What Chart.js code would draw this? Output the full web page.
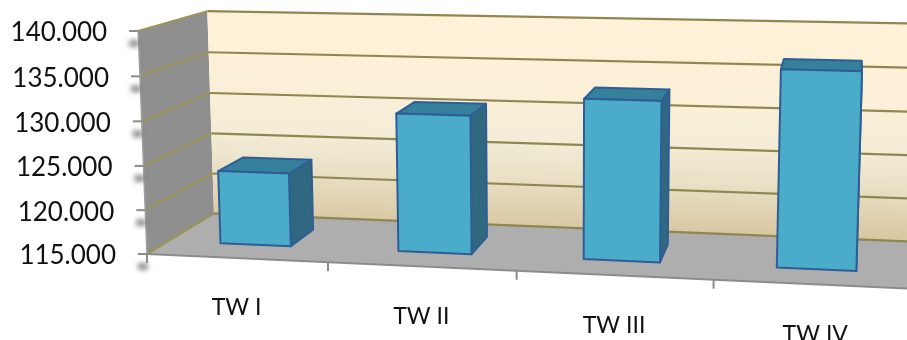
<!DOCTYPE html>
<html>
<head>
<meta charset="utf-8">
<title>Quarterly bars</title>
<script src="https://cdn.jsdelivr.net/npm/chart.js"></script>
<style>
  html, body { margin: 0; padding: 0; background: #fff; }
  canvas { display: block; }
</style>
</head>
<body>
<canvas id="bars3d" width="907" height="340"></canvas>
<script>
var categories = ['TW I', 'TW II', 'TW III', 'TW IV'];
var values = [123400, 130600, 132800, 136500];
var axisMin = 115000;
var axisMax = 140000;
var axisStep = 5000;

// depth range of the bars inside the box, 0 = front edge, 1 = back wall
var barDepth = [0.3, 0.7];

// three point perspective: origin plus a vanishing point per axis
var origin = [147, 254];
var vpX = [-8544, -140], kX = -0.0816;
var vpY = [560, 10700], kY = -0.0209;
var vpZ = [850, -173], kZ = 0.1053;

function project(u, v, w) {
  var d = 1 + u * kX + v * kY + w * kZ;
  return [
    (origin[0] + u * kX * vpX[0] + v * kY * vpY[0] + w * kZ * vpZ[0]) / d,
    (origin[1] + u * kX * vpX[1] + v * kY * vpY[1] + w * kZ * vpZ[1]) / d
  ];
}

function poly(ctx, pts, fill, stroke, lw) {
  ctx.beginPath();
  ctx.moveTo(pts[0][0], pts[0][1]);
  for (var i = 1; i < pts.length; i++) ctx.lineTo(pts[i][0], pts[i][1]);
  ctx.closePath();
  if (fill) { ctx.fillStyle = fill; ctx.fill(); }
  if (stroke) { ctx.strokeStyle = stroke; ctx.lineWidth = lw || 1; ctx.lineJoin = 'round'; ctx.stroke(); }
}

function line(ctx, a, b, color, lw) {
  ctx.beginPath();
  ctx.moveTo(a[0], a[1]);
  ctx.lineTo(b[0], b[1]);
  ctx.strokeStyle = color;
  ctx.lineWidth = lw;
  ctx.stroke();
}

var box3d = {
  id: 'box3d',
  // walls, floor, grid and axis text go under the bars
  beforeDatasetsDraw: function(chart) {
    var ctx = chart.ctx, area = chart.chartArea;
    var xs = chart.scales.x, ys = chart.scales.y;
    var vOf = function(val) { return (area.bottom - ys.getPixelForValue(val)) / area.height; };
    var uOf = function(idx) { return (xs.getPixelForValue(idx) - area.left) / area.width; };

    ctx.save();
    // floor
    poly(ctx, [project(0,0,0), project(1,0,0), project(1,0,1), project(0,0,1)], '#aeaeae');
    // left wall
    poly(ctx, [project(0,0,0), project(0,1,0), project(0,1,1), project(0,0,1)], '#8f8f8f');
    // back wall, gradient tilted along the grid lines
    var top = project(0.5,1,1), bot = project(0.5,0,1);
    var g = ctx.createLinearGradient(top[0], top[1], bot[0] - 6, bot[1]);
    g.addColorStop(0, '#fff2d8');
    g.addColorStop(0.35, '#fbf0d8');
    g.addColorStop(0.6, '#f3ecd6');
    g.addColorStop(0.78, '#e8dfc4');
    g.addColorStop(1, '#d9c8a2');
    poly(ctx, [project(0,0,1), project(1,0,1), project(1,1,1), project(0,1,1)], g);

    // grid lines on both walls
    ys.ticks.forEach(function(t) {
      var v = vOf(t.value);
      line(ctx, project(0,v,1), project(1,v,1), '#8f8752', 2.2);
      line(ctx, project(0,v,0), project(0,v,1), '#9d9458', 2.2);
    });

    // axis edges
    line(ctx, project(0,0,0), project(0,1,0), '#a0a0a0', 1.5);
    line(ctx, project(0,0,0), project(1,0,0), '#8c8c8c', 2);

    // value ticks, their soft shadows and labels
    ctx.font = '26px Lato';
    ctx.textAlign = 'right';
    ctx.textBaseline = 'middle';
    ys.ticks.forEach(function(t) {
      var p = project(0, vOf(t.value), 0);
      ctx.save();
      ctx.filter = 'blur(2.5px)';
      ctx.fillStyle = 'rgba(120,120,120,0.8)';
      ctx.fillRect(p[0] - 9, p[1] + 9, 10, 7);
      ctx.restore();
      line(ctx, [p[0] - 9, p[1]], [p[0], p[1]], '#8c8c8c', 2);
      ctx.fillStyle = '#111';
      ctx.fillText(t.label, p[0] - 31, p[1] + 2);
    });

    // category boundary ticks and labels
    for (var i = 0; i <= categories.length; i++) {
      var b = project(uOf(i - 0.5), 0, 0);
      line(ctx, b, [b[0], b[1] + 9], '#8c8c8c', 2);
    }
    ctx.font = '23px Lato';
    ctx.textAlign = 'center';
    ctx.fillStyle = '#111';
    xs.ticks.forEach(function(t, i) {
      var c = project(uOf(i), 0, 0);
      ctx.fillText(t.label, c[0], c[1] + 50);
    });
    ctx.restore();
  },
  // each bar element is turned into a box: side, top, then front face
  beforeDatasetDraw: function(chart, args) {
    var ctx = chart.ctx, area = chart.chartArea;
    var edge = '#2f5d96';
    ctx.save();
    args.meta.data.forEach(function(bar) {
      var u0 = (bar.x - bar.width / 2 - area.left) / area.width;
      var u1 = (bar.x + bar.width / 2 - area.left) / area.width;
      var v0 = (area.bottom - bar.base) / area.height;
      var v1 = (area.bottom - bar.y) / area.height;
      var w0 = barDepth[0], w1 = barDepth[1];
      poly(ctx, [project(u1,v0,w0), project(u1,v0,w1), project(u1,v1,w1), project(u1,v1,w0)], '#30697f', edge, 2);
      poly(ctx, [project(u0,v1,w0), project(u1,v1,w0), project(u1,v1,w1), project(u0,v1,w1)], '#35809a', edge, 2);
      poly(ctx, [project(u0,v0,w0), project(u1,v0,w0), project(u1,v1,w0), project(u0,v1,w0)], '#4bacc9', edge, 2);
    });
    ctx.restore();
    return false;
  }
};

new Chart(document.getElementById('bars3d'), {
  type: 'bar',
  data: {
    labels: categories,
    datasets: [{ data: values, base: axisMin, barPercentage: 0.4, categoryPercentage: 1 }]
  },
  options: {
    responsive: false,
    animation: false,
    layout: { padding: 0 },
    plugins: { legend: { display: false }, tooltip: { enabled: false } },
    scales: {
      x: { display: false },
      y: {
        display: false,
        min: axisMin,
        max: axisMax,
        ticks: {
          stepSize: axisStep,
          callback: function(val) { return String(val).replace(/(\d)(\d{3})$/, '$1.$2'); }
        }
      }
    }
  },
  plugins: [box3d]
});
</script>
</body>
</html>
